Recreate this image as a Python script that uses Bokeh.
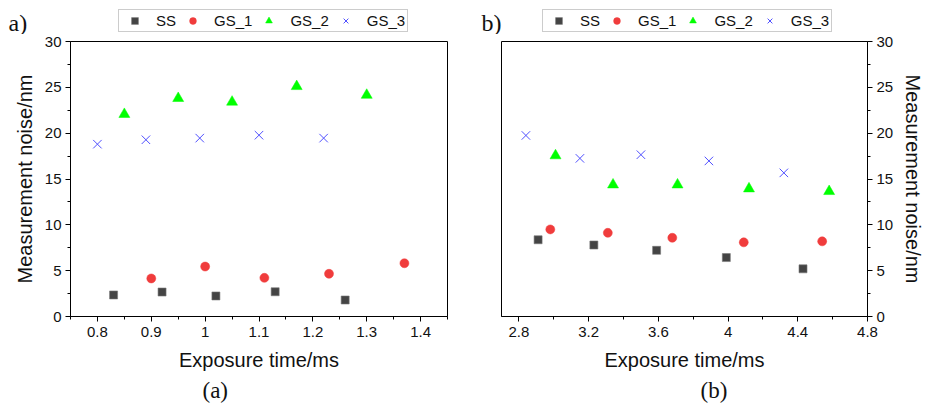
from bokeh.plotting import figure
from bokeh.models import Range1d, Legend, LegendItem, Label, Title, FixedTicker
from bokeh.layouts import row, column
from bokeh.embed import file_html
from bokeh.resources import INLINE

# ---- Data panel a ----
a_ss_x = [0.83, 0.92, 1.02, 1.13, 1.26]
a_ss_y = [2.35, 2.67, 2.24, 2.70, 1.80]
a_gs1_x = [0.90, 1.00, 1.11, 1.23, 1.37]
a_gs1_y = [4.15, 5.45, 4.22, 4.66, 5.81]
a_gs2_x = [0.85, 0.95, 1.05, 1.17, 1.30]
a_gs2_y = [22.06, 23.80, 23.40, 25.10, 24.15]
a_gs3_x = [0.80, 0.89, 0.99, 1.10, 1.22]
a_gs3_y = [18.80, 19.28, 19.46, 19.78, 19.46]

# ---- Data panel b ----
b_ss_x = [2.91, 3.23, 3.59, 3.99, 4.43]
b_ss_y = [8.37, 7.80, 7.22, 6.43, 5.20]
b_gs1_x = [2.98, 3.31, 3.68, 4.09, 4.54]
b_gs1_y = [9.50, 9.13, 8.59, 8.09, 8.20]
b_gs2_x = [3.01, 3.34, 3.71, 4.12, 4.58]
b_gs2_y = [17.55, 14.37, 14.37, 13.94, 13.65]
b_gs3_x = [2.84, 3.15, 3.50, 3.89, 4.32]
b_gs3_y = [19.75, 17.25, 17.65, 16.97, 15.67]

series_names = ["SS", "GS_1", "GS_2", "GS_3"]
a_xticks = [0.8, 0.9, 1.0, 1.1, 1.2, 1.3, 1.4]
b_xticks = [2.8, 3.2, 3.6, 4.0, 4.4, 4.8]
y_ticks = [0, 5, 10, 15, 20, 25, 30]
x_label = "Exposure time/ms"
y_label = "Measurement noise/nm"

SANS = "Liberation Sans"
SERIF = "Liberation Serif"
C_SS = "#444444"
C_GS1 = "#f03c3c"
C_GS2 = "#00ff00"
C_GS3 = "#5050ff"
HEADER_H = 34
MAIN_H = 404 - HEADER_H


def style_axis(ax):
    ax.axis_line_color = "black"
    ax.major_tick_line_color = "black"
    ax.minor_tick_line_color = "black"
    ax.major_tick_in = 0
    ax.major_tick_out = 5
    ax.minor_tick_in = 0
    ax.minor_tick_out = 3
    ax.major_label_text_font = SANS
    ax.major_label_text_font_size = "15px"
    ax.major_label_text_color = "#111111"
    ax.axis_label_text_font = SANS
    ax.axis_label_text_font_size = "20px"
    ax.axis_label_text_font_style = "normal"
    ax.axis_label_text_color = "#111111"


def add_series(p, xs, ys):
    r_ss = p.scatter(xs[0], ys[0], marker="square", size=8, fill_color=C_SS,
                     line_color="#777777", line_width=0.6)
    r_g1 = p.scatter(xs[1], ys[1], marker="circle", size=9, fill_color=C_GS1,
                     line_color=C_GS1, line_width=0.5)
    r_g2 = p.scatter(xs[2], ys[2], marker="triangle", size=11, fill_color=C_GS2,
                     line_color=C_GS2, line_width=0.5)
    r_g3 = p.scatter(xs[3], ys[3], marker="x", size=12, line_color=C_GS3,
                     line_width=1)
    return [r_ss, r_g1, r_g2, r_g3]


def make_main(xs, ys, xr, xticks, side, w, bl, br, cap, cap_off):
    p = figure(width=w, height=MAIN_H, output_backend="svg", toolbar_location=None,
               x_range=Range1d(*xr), y_range=Range1d(0, 30),
               min_border_left=bl, min_border_right=br, min_border_top=41 - HEADER_H,
               min_border_bottom=86, y_axis_location=side)
    p.frame_align = False
    p.grid.visible = False
    p.outline_line_color = "black"
    p.outline_line_width = 1
    step = xticks[1] - xticks[0]
    p.xaxis.ticker = FixedTicker(
        ticks=xticks,
        minor_ticks=[t + step / 2 for t in xticks] + [xticks[0] - step / 2])
    p.yaxis.ticker = FixedTicker(ticks=y_ticks,
                                 minor_ticks=[t + 2.5 for t in y_ticks[:-1]])
    p.xaxis.axis_label = x_label
    p.yaxis.axis_label = y_label
    for ax in p.xaxis:
        style_axis(ax)
        ax.major_label_standoff = 5
        ax.axis_label_standoff = 9
    for ax in p.yaxis:
        style_axis(ax)
        ax.major_label_standoff = 4
        ax.axis_label_standoff = 6
    add_series(p, xs, ys)
    p.add_layout(Title(text=cap, align="left", offset=cap_off,
                       text_font=SERIF, text_font_size="23px",
                       text_font_style="normal", text_color="#111111",
                       standoff=4), "below")
    return p


def make_header(w, xs, ys, xr, tag, tag_x, leg_x):
    # the series are drawn off-view here only so that the legend can show their markers
    h = figure(width=w, height=HEADER_H, output_backend="svg", toolbar_location=None,
               x_range=Range1d(*xr), y_range=Range1d(100, 101),
               min_border=0, x_axis_location=None, y_axis_location=None)
    h.frame_align = False
    h.grid.visible = False
    h.outline_line_color = None
    rs = add_series(h, xs, ys)
    items = [LegendItem(label=n, renderers=[r]) for n, r in zip(series_names, rs)]
    leg = Legend(items=items, orientation="horizontal", location=(leg_x, 2),
                 padding=2, spacing=3, glyph_width=27, glyph_height=17,
                 label_height=15, label_standoff=8, margin=0,
                 label_text_font=SANS, label_text_font_size="15px",
                 label_text_color="#111111",
                 border_line_color="#999999", border_line_width=1,
                 background_fill_color="white", background_fill_alpha=1.0)
    h.add_layout(leg, "center")
    h.add_layout(Label(x=tag_x, y=25, x_units="screen", y_units="screen",
                       text=tag, text_font=SERIF, text_font_size="24px",
                       text_align="left", text_baseline="top",
                       text_color="#111111"))
    return h


a_xs = [a_ss_x, a_gs1_x, a_gs2_x, a_gs3_x]
a_ys = [a_ss_y, a_gs1_y, a_gs2_y, a_gs3_y]
b_xs = [b_ss_x, b_gs1_x, b_gs2_x, b_gs3_x]
b_ys = [b_ss_y, b_gs1_y, b_gs2_y, b_gs3_y]

pa = make_main(a_xs, a_ys, (0.75, 1.45), a_xticks, "left", 460, 70, 13, "(a)", 132)
pb = make_main(b_xs, b_ys, (2.7, 4.8), b_xticks, "right", 467, 41, 49, "(b)", 199)
ha = make_header(460, a_xs, a_ys, (0.75, 1.45), "a)", 8, 118)
hb = make_header(467, b_xs, b_ys, (2.7, 4.8), "b)", 21, 82)

layout = row(column(ha, pa), column(hb, pb))
open("out.html", "w").write(file_html(layout, INLINE))
